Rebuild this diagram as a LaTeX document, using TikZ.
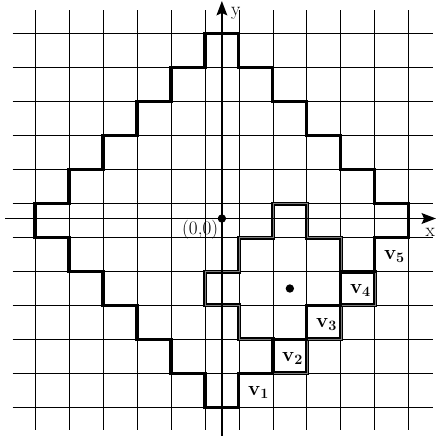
\documentclass[tikz,border=0pt]{standalone}
\usetikzlibrary{arrows.meta}
\begin{document}
\begin{tikzpicture}[x=1cm,y=1cm,
 gridline/.style={line width=0.6pt, black},
 bigshape/.style={line width=2.7pt, line join=miter},
 smallshape/.style={line width=1.5pt, double=gray, double distance=0.35pt},
 axisline/.style={line width=1.3pt, -{Stealth[length=12pt,width=9pt,inset=2pt]}},
 dotmark/.style={circle, fill=black, inner sep=0pt, minimum size=7pt},
 vlabel/.style={inner sep=0pt, font=\fontsize{17}{20}\selectfont},
 axlabel/.style={inner sep=0pt, font=\fontsize{16}{19}\selectfont}]
\useasboundingbox (-6.53,-6.37) rectangle (6.32,6.49);
% grid
\foreach \k in {-5.5,-4.5,...,5.5} {
  \draw[gridline] (\k,-6.15) -- (\k,6.19);
  \draw[gridline] (-6.16,\k) -- (6.2,\k);
}
% small diamond (radius 2 around (2,-2))
\draw[smallshape] (2.5,0.5)
  \foreach \i in {1,2}{ -- ++(0,-1) -- ++(1,0)} -- ++(0,-1)
  \foreach \i in {1,2}{ -- ++(-1,0) -- ++(0,-1)} -- ++(-1,0)
  \foreach \i in {1,2}{ -- ++(0,1) -- ++(-1,0)} -- ++(0,1)
  \foreach \i in {1,2}{ -- ++(1,0) -- ++(0,1)} -- cycle;
% big diamond (radius 5 around origin)
\draw[bigshape] (0.5,5.5)
  \foreach \i in {1,...,5}{ -- ++(0,-1) -- ++(1,0)} -- ++(0,-1)
  \foreach \i in {1,...,5}{ -- ++(-1,0) -- ++(0,-1)} -- ++(-1,0)
  \foreach \i in {1,...,5}{ -- ++(0,1) -- ++(-1,0)} -- ++(0,1)
  \foreach \i in {1,...,5}{ -- ++(1,0) -- ++(0,1)} -- cycle;
% axes
\coordinate (xl) at (-6.38,0.06);
\coordinate (xr) at (6.3,0.06);
\coordinate (yb) at (0,-6.34);
\coordinate (yt) at (0,6.46);
\draw[axisline] (xl) -- (xr);
\draw[axisline] (yb) -- (yt);
% dots
\node[dotmark] (o) at (0,0.06) {};
\node[dotmark] (c) at (2,-2) {};
% labels
\node[axlabel] (ylab) at (0.41,6.09) {y};
\node[axlabel] (xlab) at (6.13,-0.36) {x};
\node[axlabel] (olab) at (-0.64,-0.27) {(0,0)};
\foreach \k in {1,...,5}
  \node[vlabel] (v\k) at ({\k+0.08},{\k-6-0.05}) {\textbf{v}$_{\mathbf{\k}}$};
\end{tikzpicture}
\end{document}
